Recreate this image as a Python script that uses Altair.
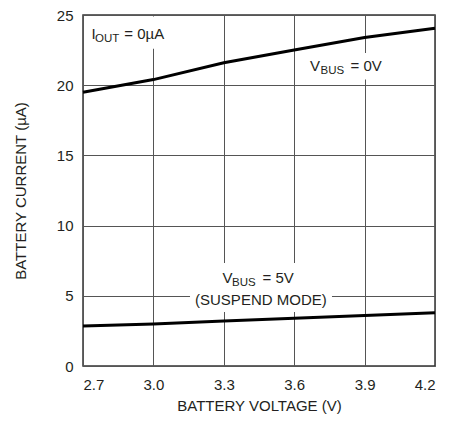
import altair as alt
import pandas as pd

# ---- data ----
voltage = [2.7, 3.0, 3.3, 3.6, 3.9, 4.2]
i_vbus_0v = [19.5, 20.4, 21.6, 22.5, 23.4, 24.05]
i_vbus_5v = [2.85, 3.0, 3.2, 3.4, 3.6, 3.8]
x_ticks = [2.7, 3.0, 3.3, 3.6, 3.9, 4.2]
y_ticks = [0, 5, 10, 15, 20, 25]

FONT = "Liberation Sans, Arial, sans-serif"
TXT = "#231f20"

lines_df = pd.DataFrame({
    "v": voltage * 2,
    "i": i_vbus_0v + i_vbus_5v,
    "series": ["VBUS=0V"] * len(voltage) + ["VBUS=5V"] * len(voltage),
})

# annotation pieces (text, x, y in data units)
main_text = pd.DataFrame({
    "t": ["I", "= 0µA", "V", "= 0V", "V", "= 5V"],
    "x": [2.736, 2.876, 3.667, 3.840, 3.294, 3.465],
    "y": [23.29, 23.29, 21.03, 21.03, 5.89, 5.89],
})
sub_text = pd.DataFrame({
    "t": ["OUT", "BUS", "BUS"],
    "x": [2.751, 3.712, 3.335],
    "y": [23.11, 20.80, 5.70],
})
center_text = pd.DataFrame({"t": ["(SUSPEND MODE)"], "x": [3.458], "y": [4.35]})
boxes = pd.DataFrame({
    "x": [2.709, 3.646, 3.156],
    "x2": [3.092, 4.008, 3.761],
    "y": [22.6, 20.4, 3.85],
    "y2": [24.9, 22.3, 7.34],
})

xs = alt.Scale(domain=[2.7, 4.2], nice=False, zero=False)
ys = alt.Scale(domain=[0, 25], nice=False)

base_x = alt.X("v:Q", scale=xs, title="BATTERY VOLTAGE (V)",
               axis=alt.Axis(values=x_ticks, format=".1f"))
base_y = alt.Y("i:Q", scale=ys, title="BATTERY CURRENT (µA)",
               axis=alt.Axis(values=y_ticks))

rects = alt.Chart(boxes).mark_rect(color="white").encode(
    x=alt.X("x:Q", scale=xs), x2="x2:Q",
    y=alt.Y("y:Q", scale=ys), y2="y2:Q",
)

lines = alt.Chart(lines_df).mark_line(color="black", strokeWidth=3).encode(
    x=base_x, y=base_y, detail="series:N"
)

t_main = alt.Chart(main_text).mark_text(
    align="left", baseline="alphabetic", fontSize=15, font=FONT, color=TXT
).encode(x=alt.X("x:Q", scale=xs), y=alt.Y("y:Q", scale=ys), text="t:N")

t_sub = alt.Chart(sub_text).mark_text(
    align="left", baseline="alphabetic", fontSize=11.5, font=FONT, color=TXT
).encode(x=alt.X("x:Q", scale=xs), y=alt.Y("y:Q", scale=ys), text="t:N")

t_center = alt.Chart(center_text).mark_text(
    align="center", baseline="alphabetic", fontSize=15, font=FONT, color=TXT
).encode(x=alt.X("x:Q", scale=xs), y=alt.Y("y:Q", scale=ys), text="t:N")

chart = alt.layer(rects, lines, t_main, t_sub, t_center).properties(
    width=352, height=351,
    autosize=alt.AutoSizeParams(type="none"),
    padding={"left": 75, "top": 7, "right": 21, "bottom": 49},
).configure_view(
    stroke="#333", strokeWidth=1.5
).configure_axis(
    grid=True, gridColor="#555", gridWidth=1, domain=False, ticks=False,
    labelFont=FONT, titleFont=FONT, labelFontSize=15, titleFontSize=15,
    labelColor=TXT, titleColor=TXT, titleFontWeight="normal",
).configure_axisX(
    labelPadding=11, titlePadding=6,
).configure_axisY(
    labelPadding=10, titlePadding=28,
)

chart.save("out.html", embed_options={"renderer": "svg", "actions": False})
